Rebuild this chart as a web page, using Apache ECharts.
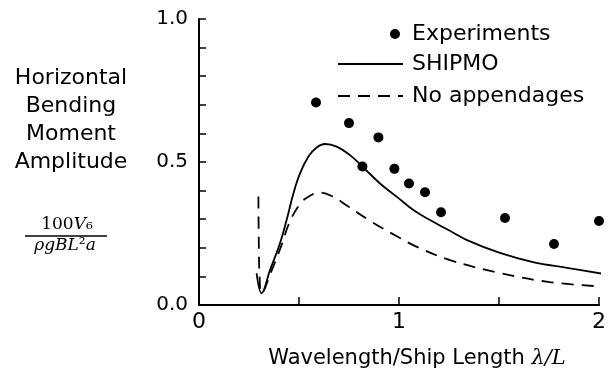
<!DOCTYPE html>
<html>
<head>
<meta charset="utf-8">
<script src="https://cdn.jsdelivr.net/npm/echarts@6/dist/echarts.min.js"></script>
<style>html,body{margin:0;padding:0;background:#fff;}#c{width:610px;height:383px;}</style>
</head>
<body>
<div id="c"></div>
<script>
// Experiments (x = wavelength/ship length, y = amplitude)
var expX = [0.585, 0.75, 0.817, 0.897, 0.977, 1.05, 1.13, 1.21, 1.53, 1.775, 2.0];
var expY = [0.708, 0.636, 0.484, 0.586, 0.476, 0.425, 0.394, 0.324, 0.304, 0.213, 0.294];
// SHIPMO curve
var shipX = [0.288, 0.313, 0.355, 0.405, 0.438, 0.472, 0.505, 0.547, 0.588, 0.63, 0.688, 0.755, 0.817, 0.905, 0.988, 1.072, 1.155, 1.247, 1.34, 1.505, 1.67, 1.84, 2.055];
var shipY = [0.111, 0.041, 0.122, 0.216, 0.297, 0.39, 0.46, 0.519, 0.551, 0.563, 0.554, 0.524, 0.484, 0.425, 0.379, 0.332, 0.297, 0.262, 0.227, 0.182, 0.15, 0.13, 0.105];
// No appendages curve
var noAppX = [0.297, 0.299, 0.303, 0.313, 0.36, 0.413, 0.452, 0.508, 0.555, 0.6, 0.663, 0.747, 0.863, 1.0, 1.09, 1.255, 1.505, 1.755, 2.055];
var noAppY = [0.379, 0.22, 0.10, 0.041, 0.115, 0.21, 0.288, 0.356, 0.382, 0.393, 0.381, 0.344, 0.291, 0.236, 0.203, 0.157, 0.112, 0.08, 0.063];
// tick labels
var xTickLabels = ['0', '1', '2'];
var yTickLabels = ['0.0', '0.5', '1.0'];
var seriesNames = ['Experiments', 'SHIPMO', 'No appendages'];

function zip(a, b) { return a.map(function (v, i) { return [v, b[i]]; }); }

var FONT = 'DejaVu Sans';
var chart = echarts.init(document.getElementById('c'), null, { renderer: 'canvas' });
chart.setOption({
  animation: false,
  backgroundColor: '#fff',
  grid: { left: 199, right: 11, top: 19, bottom: 78 },
  legend: [
    {
      data: [seriesNames[0]], left: 390, top: 23, orient: 'vertical', padding: 0,
      itemWidth: 20, itemHeight: 10,
      textStyle: { fontFamily: FONT, fontSize: 22, color: '#000', padding: [0, 0, 0, 2] }
    },
    {
      data: [seriesNames[1], seriesNames[2]], left: 337, top: 53, orient: 'vertical', padding: 0,
      itemWidth: 65, itemHeight: 14, itemGap: 10,
      itemStyle: { opacity: 0 },
      textStyle: { fontFamily: FONT, fontSize: 22, color: '#000', padding: [0, 0, 0, 4] }
    }
  ],
  xAxis: {
    type: 'value', min: 0, max: 2, interval: 0.5,
    axisLine: { lineStyle: { color: '#000', width: 2 } },
    axisTick: { inside: true, length: 8, lineStyle: { color: '#000', width: 1.5 } },
    splitLine: { show: false },
    axisLabel: {
      margin: 6, fontFamily: FONT, fontSize: 22, color: '#000',
      formatter: function (v) {
        var r = Math.round(v);
        return Math.abs(v - r) < 1e-6 ? xTickLabels[r] : '';
      }
    },
    name: 'Wavelength/Ship Length {m|λ/L}',
    nameLocation: 'middle', nameGap: 43,
    nameTextStyle: {
      fontFamily: FONT, fontSize: 21, color: '#000', padding: [0, 0, 0, 36],
      rich: { m: { fontFamily: 'DejaVu Serif', fontStyle: 'italic', fontSize: 21, color: '#000' } }
    }
  },
  yAxis: {
    type: 'value', min: 0, max: 1, interval: 0.1,
    axisLine: { show: true, lineStyle: { color: '#000', width: 2 } },
    axisTick: { show: true, inside: true, length: 7, lineStyle: { color: '#000', width: 1.5 } },
    splitLine: { show: false },
    axisLabel: {
      margin: 11, fontFamily: FONT, fontSize: 20, color: '#000',
      formatter: function (v) {
        var k = Math.round(v * 2);
        return Math.abs(v * 2 - k) < 1e-6 ? yTickLabels[k] : '';
      }
    }
  },
  graphic: [
    {
      type: 'text', x: 71, y: 64,
      style: {
        text: 'Horizontal\nBending\nMoment\nAmplitude',
        align: 'center', fontFamily: FONT, fontSize: 22, lineHeight: 28, fill: '#000'
      }
    },
    {
      type: 'text', x: 67, y: 225,
      style: {
        text: '{a|100}{b|V}{c|₆}', align: 'center', verticalAlign: 'middle',
        rich: {
          a: { fontFamily: 'DejaVu Serif', fontSize: 17, fill: '#000' },
          b: { fontFamily: 'DejaVu Serif', fontStyle: 'italic', fontSize: 17, fill: '#000' },
          c: { fontFamily: 'DejaVu Serif', fontSize: 17, fill: '#000' }
        }
      }
    },
    {
      type: 'line', shape: { x1: 25, y1: 236, x2: 107, y2: 236 },
      style: { stroke: '#000', lineWidth: 1.5 }
    },
    {
      type: 'text', x: 65, y: 246,
      style: {
        text: '{b|ρgBL}{c|²}{b|a}', align: 'center', verticalAlign: 'middle',
        rich: {
          b: { fontFamily: 'DejaVu Serif', fontStyle: 'italic', fontSize: 17, fill: '#000' },
          c: { fontFamily: 'DejaVu Serif', fontSize: 17, fill: '#000' }
        }
      }
    }
  ],
  series: [
    {
      name: seriesNames[0], type: 'scatter', data: zip(expX, expY),
      symbol: 'circle', symbolSize: 10, itemStyle: { color: '#000', opacity: 1 }
    },
    {
      name: seriesNames[1], type: 'line', data: zip(shipX, shipY),
      symbol: 'none', smooth: 0.4, clip: false,
      lineStyle: { color: '#000', width: 1.8 }, itemStyle: { color: '#000' }
    },
    {
      name: seriesNames[2], type: 'line', data: zip(noAppX, noAppY),
      symbol: 'none', smooth: 0.4, clip: false,
      lineStyle: { color: '#000', width: 1.8, type: [12, 8] }, itemStyle: { color: '#000' }
    }
  ]
});
</script>
</body>
</html>
